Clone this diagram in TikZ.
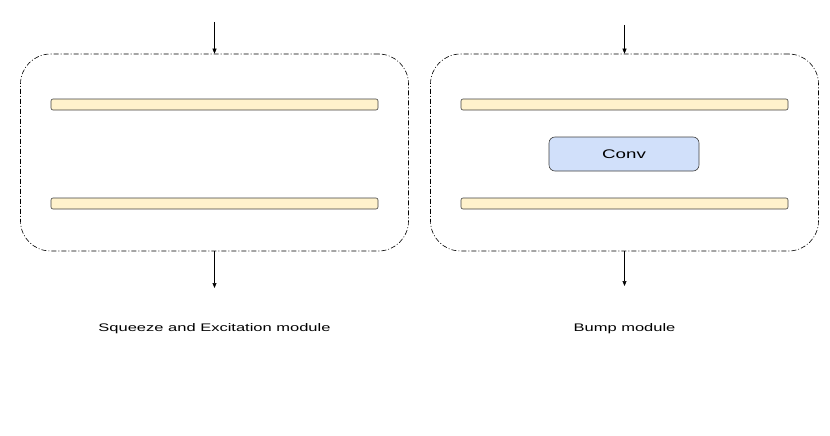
\documentclass[tikz,border=0pt]{standalone}
\usepackage{fontspec}
\setmainfont{Liberation Sans}
\usetikzlibrary{arrows.meta,positioning}
\definecolor{barfill}{RGB}{255,242,204}
\definecolor{convfill}{RGB}{209,224,250}
\newcommand{\widetext}[1]{\scalebox{1.5}[1]{#1}}

\begin{document}
\begin{tikzpicture}[x=1pt,y=1pt,
      module/.style={draw,dash pattern=on 5pt off 2pt on 1pt off 2pt,rounded corners=30pt,
        minimum width=388pt,minimum height=197pt,inner sep=0pt,line width=0.6pt},
      bar/.style={draw=black!75,fill=barfill,rounded corners=2pt,minimum width=327pt,
        minimum height=11pt,inner sep=0pt,line width=0.6pt},
      convbox/.style={draw=black!75,fill=convfill,rounded corners=6pt,minimum width=150pt,
        minimum height=34pt,inner sep=0pt,line width=0.6pt,font=\fontsize{12.5}{14}\selectfont},
      caption/.style={font=\fontsize{11}{13}\selectfont,anchor=base},
      flow/.style={-{Triangle[length=5pt,width=4pt]},line width=0.6pt}]
    \useasboundingbox (0,0) rectangle (830,-436);
    % Squeeze and Excitation
    \node[module] (se) at (214.5,-152.5) {};
    \node[bar] (se1) at (214.5,-104.5) {};
    \node[bar] (se2) at (214.5,-203.5) {};
    \coordinate (sein)  at (214.5,-22);
    \coordinate (seout) at (214.5,-288);
    \node[caption] (secap) at (214.5,-331) {\widetext{Squeeze and Excitation module}};
    % Bump
    \node[module] (bump) at (624.5,-152.5) {};
    \node[bar] (bump1) at (624.5,-104.5) {};
    \node[bar] (bump2) at (624.5,-203.5) {};
    \node[convbox] (conv) at (624,-154) {\widetext{Conv}};
    \coordinate (bumpin)  at (624.5,-25);
    \coordinate (bumpout) at (624.5,-286);
    \node[caption] (bumpcap) at (624.5,-331) {\widetext{Bump module}};
    \foreach \m in {se,bump}{
      \draw[flow] (\m in) -- (\m.north);
      \draw[flow] (\m.south) -- (\m out);
    }
  \end{tikzpicture}
\end{document}
